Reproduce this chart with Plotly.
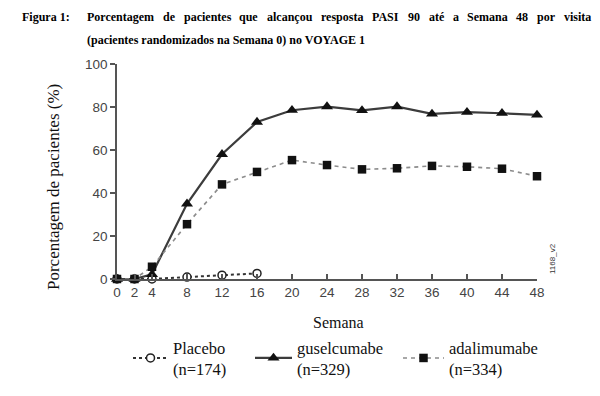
import plotly.graph_objects as go

# ---------------- data ----------------
weeks = [0, 2, 4, 8, 12, 16, 20, 24, 28, 32, 36, 40, 44, 48]
guselcumabe = [0, 0, 2.2, 35.0, 58.0, 73.0, 78.5, 80.2, 78.4, 80.2, 76.8, 77.6, 77.1, 76.3]
adalimumabe = [0, 0, 5.7, 25.5, 44.0, 49.8, 55.3, 53.0, 51.0, 51.5, 52.6, 52.2, 51.3, 47.8]
weeks_placebo = [0, 2, 4, 8, 12, 16]
placebo = [0, 0, 0, 0.9, 1.8, 2.6]

x_tickvals = [0, 2, 4, 8, 12, 16, 20, 24, 28, 32, 36, 40, 44, 48]
y_tickvals = [0, 20, 40, 60, 80, 100]

names = ["Placebo<br>(n=174)", "guselcumabe<br>(n=329)", "adalimumabe<br>(n=334)"]

title_label = "Figura 1:"
title_line1 = "Porcentagem de pacientes que alcançou resposta PASI 90 até a Semana 48 por visita"
title_line2 = "(pacientes randomizados na Semana 0) no VOYAGE 1"

# ---------------- layout geometry ----------------
W, H = 600, 396
ML, MR, MT, MB = 117, 63, 64, 117
PW, PH = W - ML - MR, H - MT - MB


def px(x):
    return (x - ML) / PW


def py(y):
    return (H - MB - y) / PH


SERIF = "Liberation Serif, Times New Roman, serif"
SANS = "Liberation Sans, Arial, sans-serif"

fig = go.Figure()

fig.add_trace(go.Scatter(
    x=weeks_placebo, y=placebo, name=names[0], mode="lines+markers",
    line=dict(color="#333333", width=2, dash="dot"),
    marker=dict(symbol="circle", size=8, color="white", line=dict(color="#222222", width=1.5)),
    cliponaxis=False, legend="legend",
))
fig.add_trace(go.Scatter(
    x=weeks, y=guselcumabe, name=names[1], mode="lines+markers",
    line=dict(color="#3c3c3c", width=2.2),
    marker=dict(symbol="triangle-up", size=10.5, color="#111111"),
    cliponaxis=False, legend="legend2",
))
fig.add_trace(go.Scatter(
    x=weeks, y=adalimumabe, name=names[2], mode="lines+markers",
    line=dict(color="#8c8c8c", width=1.6, dash="4px,4px"),
    marker=dict(symbol="square", size=8.5, color="#111111"),
    cliponaxis=False, legend="legend3",
))

# ---------------- title (justified first line) ----------------
TB = {  # Times Bold advance widths (1/1000 em)
    "P": 611, "o": 500, "r": 444, "c": 444, "e": 444, "n": 556, "t": 333, "a": 500,
    "g": 500, "m": 833, "d": 556, "p": 556, "i": 278, "s": 389, "q": 556, "u": 556,
    "l": 278, "ç": 444, "A": 722, "S": 556, "I": 389, "9": 500, "0": 500, "é": 444,
    "4": 500, "8": 500, "v": 500,
}
TFS = 12
words = title_line1.split(" ")
wwidth = [sum(TB.get(ch, 500) for ch in w) * TFS / 1000 for w in words]
x0, x1 = 85, 589
gap = (x1 - x0 - sum(wwidth)) / (len(words) - 1)
annotations = []
cx = x0
for w, ww in zip(words, wwidth):
    annotations.append(dict(text="<b>%s</b>" % w, x=px(cx), y=py(17), xref="paper", yref="paper",
                            xanchor="left", yanchor="middle", showarrow=False,
                            font=dict(family=SERIF, size=TFS, color="black")))
    cx += ww + gap
annotations.append(dict(text="<b>%s</b>" % title_label, x=px(20), y=py(17), xref="paper", yref="paper",
                        xanchor="left", yanchor="middle", showarrow=False,
                        font=dict(family=SERIF, size=TFS, color="black")))
annotations.append(dict(text="<b>%s</b>" % title_line2, x=px(85), y=py(40), xref="paper", yref="paper",
                        xanchor="left", yanchor="middle", showarrow=False,
                        font=dict(family=SERIF, size=TFS, color="black")))
# axis titles
annotations.append(dict(text="Porcentagem de pacientes (%)", x=px(53), y=py(187), xref="paper", yref="paper",
                        xanchor="center", yanchor="middle", textangle=-90, showarrow=False,
                        font=dict(family=SERIF, size=17, color="#111111")))
annotations.append(dict(text="Semana", x=px(338), y=py(322), xref="paper", yref="paper",
                        xanchor="center", yanchor="middle", showarrow=False,
                        font=dict(family=SERIF, size=16, color="#111111")))
annotations.append(dict(text="1168_v2", x=px(552), y=py(259), xref="paper", yref="paper",
                        xanchor="center", yanchor="middle", textangle=-90, showarrow=False,
                        font=dict(family=SANS, size=8, color="#333333")))

legend_common = dict(orientation="v", xref="container", yref="container", yanchor="middle",
                     xanchor="left", bgcolor="rgba(0,0,0,0)", borderwidth=0,
                     font=dict(family=SERIF, size=16.5, color="#111111"), tracegroupgap=0)
ly = 1 - 358 / H

fig.update_layout(
    width=W, height=H,
    margin=dict(l=ML, r=MR, t=MT, b=MB, pad=0, autoexpand=False),
    paper_bgcolor="white", plot_bgcolor="white",
    showlegend=True,
    legend=dict(x=128 / W, y=ly, itemwidth=35, **legend_common),
    legend2=dict(x=250 / W, y=ly, itemwidth=37, **legend_common),
    legend3=dict(x=398 / W, y=ly, itemwidth=41, **legend_common),
    xaxis=dict(
        range=[0, 48], tickvals=x_tickvals, ticktext=[str(v) for v in x_tickvals],
        showgrid=False, zeroline=False, showline=True, linecolor="#555555", linewidth=1.5,
        ticks="inside", ticklen=5, tickwidth=1.5, tickcolor="#555555",
        tickfont=dict(family=SANS, size=13.5, color="#444444"),
    ),
    yaxis=dict(
        range=[0, 100], tickvals=y_tickvals,
        showgrid=False, zeroline=False, showline=True, linecolor="#555555", linewidth=1.5,
        ticks="outside", ticklen=5, tickwidth=1.5, tickcolor="#555555",
        tickfont=dict(family=SANS, size=13.5, color="#444444"),
    ),
    shapes=[dict(type="line", xref="paper", yref="paper", x0=px(113), x1=0, y0=0, y1=0,
                 line=dict(color="#555555", width=1.5))],
    annotations=annotations,
)

fig.write_html("out.html", config={"displayModeBar": False},
               post_script="document.body.style.margin='0';")
